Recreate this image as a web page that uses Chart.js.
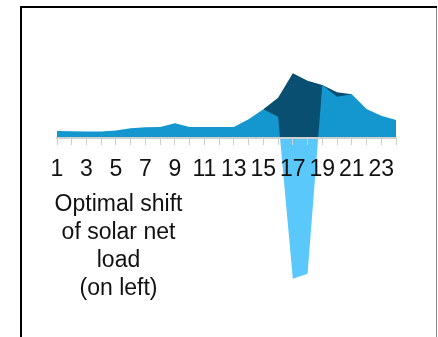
<!DOCTYPE html>
<html>
<head>
<meta charset="utf-8">
<script src="https://cdn.jsdelivr.net/npm/chart.js@4/dist/chart.umd.min.js"></script>
<style>
  html, body { margin: 0; padding: 0; background: #fff; }
  #wrap { width: 438px; height: 337px; position: relative; }
</style>
</head>
<body>
<div id="wrap"><canvas id="shiftChart" width="438" height="337"></canvas></div>
<script>
// hours of the day
const hours = [1, 2, 3, 4, 5, 6, 7, 8, 9, 10, 11, 12, 13, 14, 15, 16, 17, 18, 19, 20, 21, 22, 23, 24];

// net load after the solar shift (light blue above zero, sky blue below)
const shiftedLoad = [7.3, 7, 6.7, 6.7, 7.7, 10, 11, 11.3, 15, 11.3, 11.3, 11.3, 11.3, 19, 29, 21.6,
  -140.4, -135.4, 53.3, 41.6, 44, 29.3, 22.6, 18.3];

// original net load, only where it differs (dark)
const originalLoad = [null, null, null, null, null, null, null, null, null, null, null, null, null, null,
  29, 40.6, 65, 57.6, 53.3, 46, 44, null, null, null];

const noteLines = ['Optimal shift', 'of solar net', 'load', '(on left)'];

const FONT = '"Liberation Sans", Arial, sans-serif';

// frame lines and the text note
const framePlugin = {
  id: 'frame',
  beforeDraw(chart) {
    const c = chart.ctx;
    c.save();
    c.fillStyle = '#fff';
    c.fillRect(0, 0, chart.width, chart.height);
    c.fillStyle = '#000';
    c.fillRect(20, 6, 417, 2);
    c.fillRect(20, 6, 2, chart.height);
    c.fillStyle = '#8a8a8a';
    c.fillRect(436, 8, 1, chart.height);
    c.restore();
  },
  afterDraw(chart) {
    const c = chart.ctx;
    c.save();
    c.font = '23px ' + FONT;
    c.fillStyle = '#111';
    c.textAlign = 'center';
    c.textBaseline = 'alphabetic';
    noteLines.forEach((t, i) => c.fillText(t, 118.5, 211 + i * 28));
    c.restore();
  }
};

const ctx = document.getElementById('shiftChart').getContext('2d');
const shiftChart = new Chart(ctx, {
  type: 'line',
  data: {
    labels: hours,
    datasets: [{
      label: 'Shifted net load',
      data: shiftedLoad,
      borderColor: 'transparent',
      borderWidth: 0,
      pointRadius: 0,
      tension: 0,
      fill: { target: 'origin', above: '#1497cf', below: '#5ac8fa' }
    }, {
      label: 'Net load',
      data: originalLoad,
      borderColor: 'transparent',
      borderWidth: 0,
      pointRadius: 0,
      tension: 0,
      backgroundColor: '#084f71',
      fill: 'origin'
    }]
  },
  options: {
    responsive: false,
    animation: false,
    layout: { padding: { left: 57, right: 42, top: 38.3, bottom: 18.7 } },
    plugins: {
      legend: { display: false },
      tooltip: { enabled: false }
    },
    scales: {
      x: {
        position: { y: 0 },
        offset: false,
        border: { display: true, color: '#cfcfcf', width: 2, z: 1 },
        grid: { drawOnChartArea: false, drawTicks: true, tickLength: 6, color: '#cfcfcf', lineWidth: 1, z: 1 },
        ticks: {
          z: 1,
          autoSkip: false,
          maxRotation: 0,
          padding: 12,
          color: '#111',
          font: { family: FONT, size: 23 },
          callback: (v, i) => (hours[i] % 2 === 1 ? String(hours[i]) : '')
        }
      },
      y: {
        display: false,
        min: -180,
        max: 100
      }
    }
  },
  plugins: [framePlugin]
});
</script>
</body>
</html>
